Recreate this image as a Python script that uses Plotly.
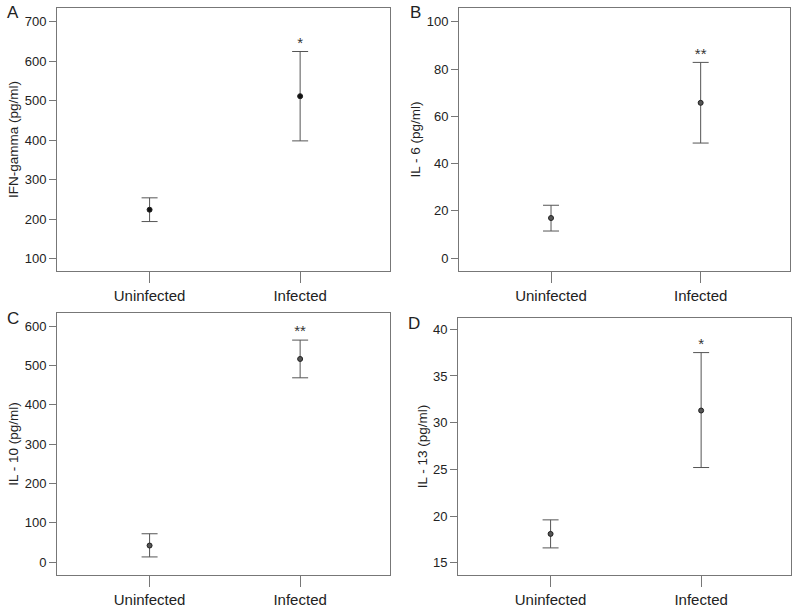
import plotly.graph_objects as go

categories = ["Uninfected", "Infected"]

panel_letters = ["A", "B", "C", "D"]
y_titles = ["IFN-gamma (pg/ml)", "IL - 6 (pg/ml)", "IL - 10 (pg/ml)", "IL - 13 (pg/ml)"]

ifn_mean = [224, 511]
ifn_upper = [254, 624]
ifn_lower = [194, 398]

il6_mean = [17.0, 65.7]
il6_upper = [22.4, 82.8]
il6_lower = [11.5, 48.7]

il10_mean = [42, 517]
il10_upper = [72, 565]
il10_lower = [13, 469]

il13_mean = [18.1, 31.3]
il13_upper = [19.6, 37.5]
il13_lower = [16.6, 25.2]

significance = [["", "*"], ["", "**"], ["", "**"], ["", "*"]]

y_ranges = [[69, 734], [-5.4, 105.8], [-33, 634], [13.7, 41.2]]
y_ticks = [[100, 200, 300, 400, 500, 600, 700],
           [0, 20, 40, 60, 80, 100],
           [0, 100, 200, 300, 400, 500, 600],
           [15, 20, 25, 30, 35, 40]]

means = [ifn_mean, il6_mean, il10_mean, il13_mean]
uppers = [ifn_upper, il6_upper, il10_upper, il13_upper]
lowers = [ifn_lower, il6_lower, il10_lower, il13_lower]

W, H = 800, 607
# pixel boxes: left, right, top, bottom
boxes = [(57, 390, 8, 271), (459, 790, 8, 271), (57, 390, 313, 575), (458, 791, 318, 575)]
marker_colors = ["#111111", "#555555", "#555555", "#555555"]

fig = go.Figure()
font_family = "Liberation Sans, Arial, sans-serif"
line_col = "#555555"
box_col = "#777777"

for i in range(4):
    xa = "x" if i == 0 else f"x{i+1}"
    ya = "y" if i == 0 else f"y{i+1}"
    m = means[i]
    up = [u - v for u, v in zip(uppers[i], m)]
    lo = [v - l for v, l in zip(m, lowers[i])]
    fig.add_trace(go.Scatter(
        x=categories, y=m, mode="markers", xaxis=xa, yaxis=ya,
        marker=dict(symbol="circle", size=5, color=marker_colors[i],
                    line=dict(color="#222222", width=1)),
        error_y=dict(type="data", symmetric=False, array=up, arrayminus=lo,
                     color=line_col, thickness=1, width=8),
        showlegend=False, hoverinfo="skip"))
    fig.add_trace(go.Scatter(
        x=categories, y=uppers[i], mode="text", text=significance[i],
        textposition="top center", xaxis=xa, yaxis=ya,
        textfont=dict(size=15, color="#333333", family=font_family),
        showlegend=False, hoverinfo="skip"))

    l, r, t, b = boxes[i]
    xd = [l / W, r / W]
    yd = [1 - b / H, 1 - t / H]
    key = "" if i == 0 else str(i + 1)
    fig.update_layout(**{
        f"xaxis{key}": dict(domain=xd, anchor=ya, range=[-0.615, 1.597],
                            showline=True, linecolor=box_col, linewidth=1, mirror=True,
                            ticks="outside", ticklen=11, tickcolor=box_col,
                            showgrid=False, zeroline=False, automargin=False,
                            tickfont=dict(size=15, color="#222222", family=font_family)),
        f"yaxis{key}": dict(domain=yd, anchor=xa, range=y_ranges[i],
                            tickvals=y_ticks[i],
                            showline=True, linecolor=box_col, linewidth=1, mirror=True,
                            ticks="outside", ticklen=7, tickcolor=box_col,
                            showgrid=False, zeroline=False, automargin=False,
                            tickfont=dict(size=13, color="#222222", family=font_family),
                            title=dict(text=y_titles[i], standoff=2,
                                       font=dict(size=13.5, color="#222222", family=font_family))),
    })
    fig.add_annotation(text=panel_letters[i], xref="paper", yref="paper",
                       x=(l - 44) / W, y=1 - (t + 5) / H, xanchor="center", yanchor="middle",
                       showarrow=False, font=dict(size=17, color="#222222", family=font_family))

fig.update_layout(width=W, height=H, margin=dict(l=0, r=0, t=0, b=0),
                  paper_bgcolor="white", plot_bgcolor="white", template="none")

fig.write_html("out.html", config={"displayModeBar": False},
               post_script="document.body.style.margin='0';document.body.style.overflow='hidden';")
